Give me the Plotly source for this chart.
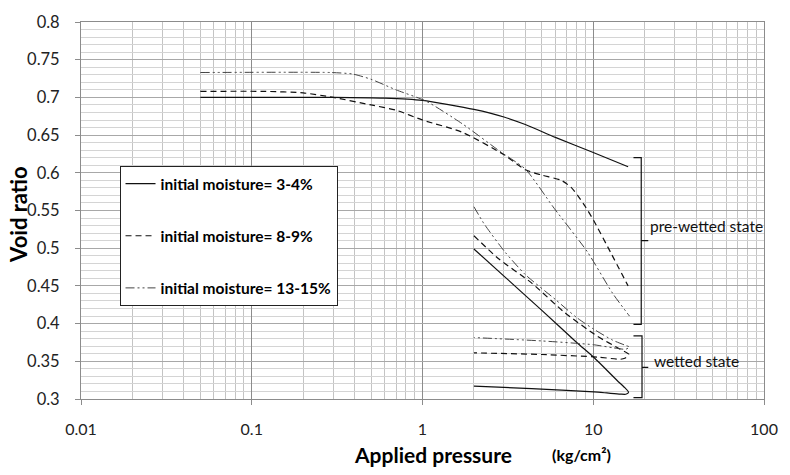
import plotly.graph_objects as go

# ---------------- data ----------------
# pre-wetted state curves
pre_solid_x = [0.05, 0.3, 0.6, 1.0, 2.0, 3.0, 4.0, 6.0, 10.0, 16.0]
pre_solid_y = [0.700, 0.700, 0.699, 0.696, 0.684, 0.674, 0.664, 0.647, 0.627, 0.608]

pre_dash_x = [0.05, 0.12, 0.2, 0.3, 0.5, 0.7, 1.0, 1.7, 3.0, 4.0, 5.0, 6.5, 7.4, 8.1, 9.0, 10.1, 12.6, 16.0]
pre_dash_y = [0.708, 0.708, 0.706, 0.700, 0.690, 0.683, 0.670, 0.654, 0.624, 0.604, 0.597, 0.590, 0.581, 0.570, 0.555, 0.536, 0.495, 0.450]

pre_dd_x = [0.05, 0.29, 0.39, 0.5, 0.7, 1.05, 1.71, 2.9, 4.0, 5.9, 9.25, 13.0, 16.3]
pre_dd_y = [0.733, 0.733, 0.731, 0.724, 0.710, 0.695, 0.665, 0.627, 0.605, 0.553, 0.495, 0.440, 0.410]

# wetted state curves (loading then unloading)
wet_solid_x = [2.0, 3.0, 5.0, 8.0, 10.1, 13.8, 15.3, 16.1, 15.5, 14.4, 12.0, 10.1, 4.35, 2.0]
wet_solid_y = [0.499, 0.463, 0.4175, 0.375, 0.355, 0.3246, 0.315, 0.309, 0.3063, 0.3065, 0.308, 0.3094, 0.3138, 0.317]

wet_dash_x = [2.0, 2.79, 4.35, 6.77, 10.6, 14.4, 16.2, 15.3, 14.4, 10.6, 5.0, 2.0]
wet_dash_y = [0.5165, 0.486, 0.454, 0.415, 0.383, 0.366, 0.359, 0.354, 0.3527, 0.3556, 0.359, 0.3612]

wet_dd_x = [2.0, 2.3, 3.04, 4.0, 6.0, 8.0, 10.0, 13.0, 15.5, 16.3, 15.5, 13.0, 10.0, 5.0, 2.0]
wet_dd_y = [0.555, 0.532, 0.495, 0.465, 0.432, 0.408, 0.393, 0.378, 0.371, 0.369, 0.366, 0.368, 0.372, 0.377, 0.3815]

legend_names = ["initial moisture= 3-4%", "initial moisture= 8-9%", "initial moisture= 13-15%"]

x_ticks = [0.01, 0.1, 1, 10, 100]
x_tick_text = ["0.01", "0.1", "1", "10", "100"]
y_ticks = [0.3, 0.35, 0.4, 0.45, 0.5, 0.55, 0.6, 0.65, 0.7, 0.75, 0.8]
y_tick_text = ["0.3", "0.35", "0.4", "0.45", "0.5", "0.55", "0.6", "0.65", "0.7", "0.75", "0.8"]

# bracket annotations (data coordinates)
pre_bracket = dict(x_in=17.2, x_v=19.1, x_tick=21.0, y_top=0.620, y_bot=0.399, y_mid=0.510)
wet_bracket = dict(x_in=17.2, x_v=19.3, x_tick=21.0, y_top=0.3837, y_bot=0.3017, y_mid=0.342)

# ---------------- styles ----------------
SOLID = dict(color="#111111", width=1.2, dash="solid")
DASH = dict(color="#111111", width=1.2, dash="6px,4px")
DASHDOT = dict(color="#444444", width=1.0, dash="9px,3px,2px,3px,2px,3px")
FONT = "Lato, 'Open Sans', sans-serif"

fig = go.Figure()

styles = [SOLID, DASH, DASHDOT]
pre = [(pre_solid_x, pre_solid_y), (pre_dash_x, pre_dash_y), (pre_dd_x, pre_dd_y)]
wet = [(wet_solid_x, wet_solid_y), (wet_dash_x, wet_dash_y), (wet_dd_x, wet_dd_y)]

for i, ((px, py), st, name) in enumerate(zip(pre, styles, legend_names)):
    fig.add_trace(go.Scatter(x=px, y=py, mode="lines", name=name, line=dict(**st, shape="spline", smoothing=0.6),
                             legendgroup=f"g{i}", showlegend=True))
for i, ((wx, wy), st) in enumerate(zip(wet, styles)):
    fig.add_trace(go.Scatter(x=wx, y=wy, mode="lines", line=dict(**st, shape="spline", smoothing=0.6),
                             legendgroup=f"g{i}", showlegend=False))

# brackets
for b in (pre_bracket, wet_bracket):
    fig.add_trace(go.Scatter(
        x=[b["x_in"], b["x_v"], b["x_v"], b["x_tick"], b["x_v"], b["x_v"], b["x_in"]],
        y=[b["y_top"], b["y_top"], b["y_mid"], b["y_mid"], b["y_mid"], b["y_bot"], b["y_bot"]],
        mode="lines", line=dict(color="#111111", width=1.2), showlegend=False, hoverinfo="skip"))

fig.add_annotation(x=1.3235, y=0.529, xref="x", yref="y", text="pre-wetted state", showarrow=False,
                   xanchor="left", yanchor="middle", font=dict(family=FONT, size=15.5, color="#111111"))
fig.add_annotation(x=1.345, y=0.351, xref="x", yref="y", text="wetted state", showarrow=False,
                   xanchor="left", yanchor="middle", font=dict(family=FONT, size=15.5, color="#111111"))

# axis titles
fig.add_annotation(x=0.3965, y=-0.147, xref="paper", yref="paper", xanchor="left", yanchor="middle",
                   text="<b>Applied pressure</b>", showarrow=False,
                   font=dict(family=FONT, size=21, color="#000000"))
fig.add_annotation(x=0.686, y=-0.148, xref="paper", yref="paper", xanchor="left", yanchor="middle",
                   text="<b>(kg/cm²)</b>", showarrow=False,
                   font=dict(family=FONT, size=16, color="#000000"))
fig.add_annotation(x=-0.0919, y=0.489, xref="paper", yref="paper", xanchor="center", yanchor="middle",
                   text="<b>Void ratio</b>", showarrow=False, textangle=-90,
                   font=dict(family=FONT, size=22, color="#000000"))

fig.update_xaxes(type="log", range=[-2, 2], tickvals=x_ticks, ticktext=x_tick_text,
                 showgrid=True, gridcolor="#8c8c8c", gridwidth=1,
                 minor=dict(dtick="D1", showgrid=True, gridcolor="#c4c4c4", gridwidth=1, ticks=""),
                 ticks="outside", ticklen=5, tickcolor="#8c8c8c",
                 showline=True, linecolor="#8c8c8c", linewidth=1, mirror=True,
                 tickfont=dict(family=FONT, size=16, color="#222222"), ticklabelstandoff=11,
                 zeroline=False)
fig.update_yaxes(range=[0.3, 0.8], tickvals=y_ticks, ticktext=y_tick_text,
                 showgrid=True, gridcolor="#a8a8a8", gridwidth=1,
                 minor=dict(dtick=0.01, showgrid=True, gridcolor="#d4d4d4", gridwidth=1, ticks=""),
                 ticks="outside", ticklen=5, tickcolor="#8c8c8c",
                 showline=True, linecolor="#8c8c8c", linewidth=1, mirror=True,
                 tickfont=dict(family=FONT, size=16.5, color="#222222"), ticklabelstandoff=12,
                 zeroline=False)

fig.update_layout(
    width=790, height=475,
    margin=dict(l=81, r=18, t=12, b=76),
    plot_bgcolor="white", paper_bgcolor="white",
    legend=dict(x=0.0564, y=0.618, xanchor="left", yanchor="top",
                bgcolor="white", bordercolor="#222222", borderwidth=1,
                font=dict(family=FONT, size=15.5, color="#000000", weight="bold"),
                tracegroupgap=29, itemwidth=30),
)

fig.write_html("out.html")
